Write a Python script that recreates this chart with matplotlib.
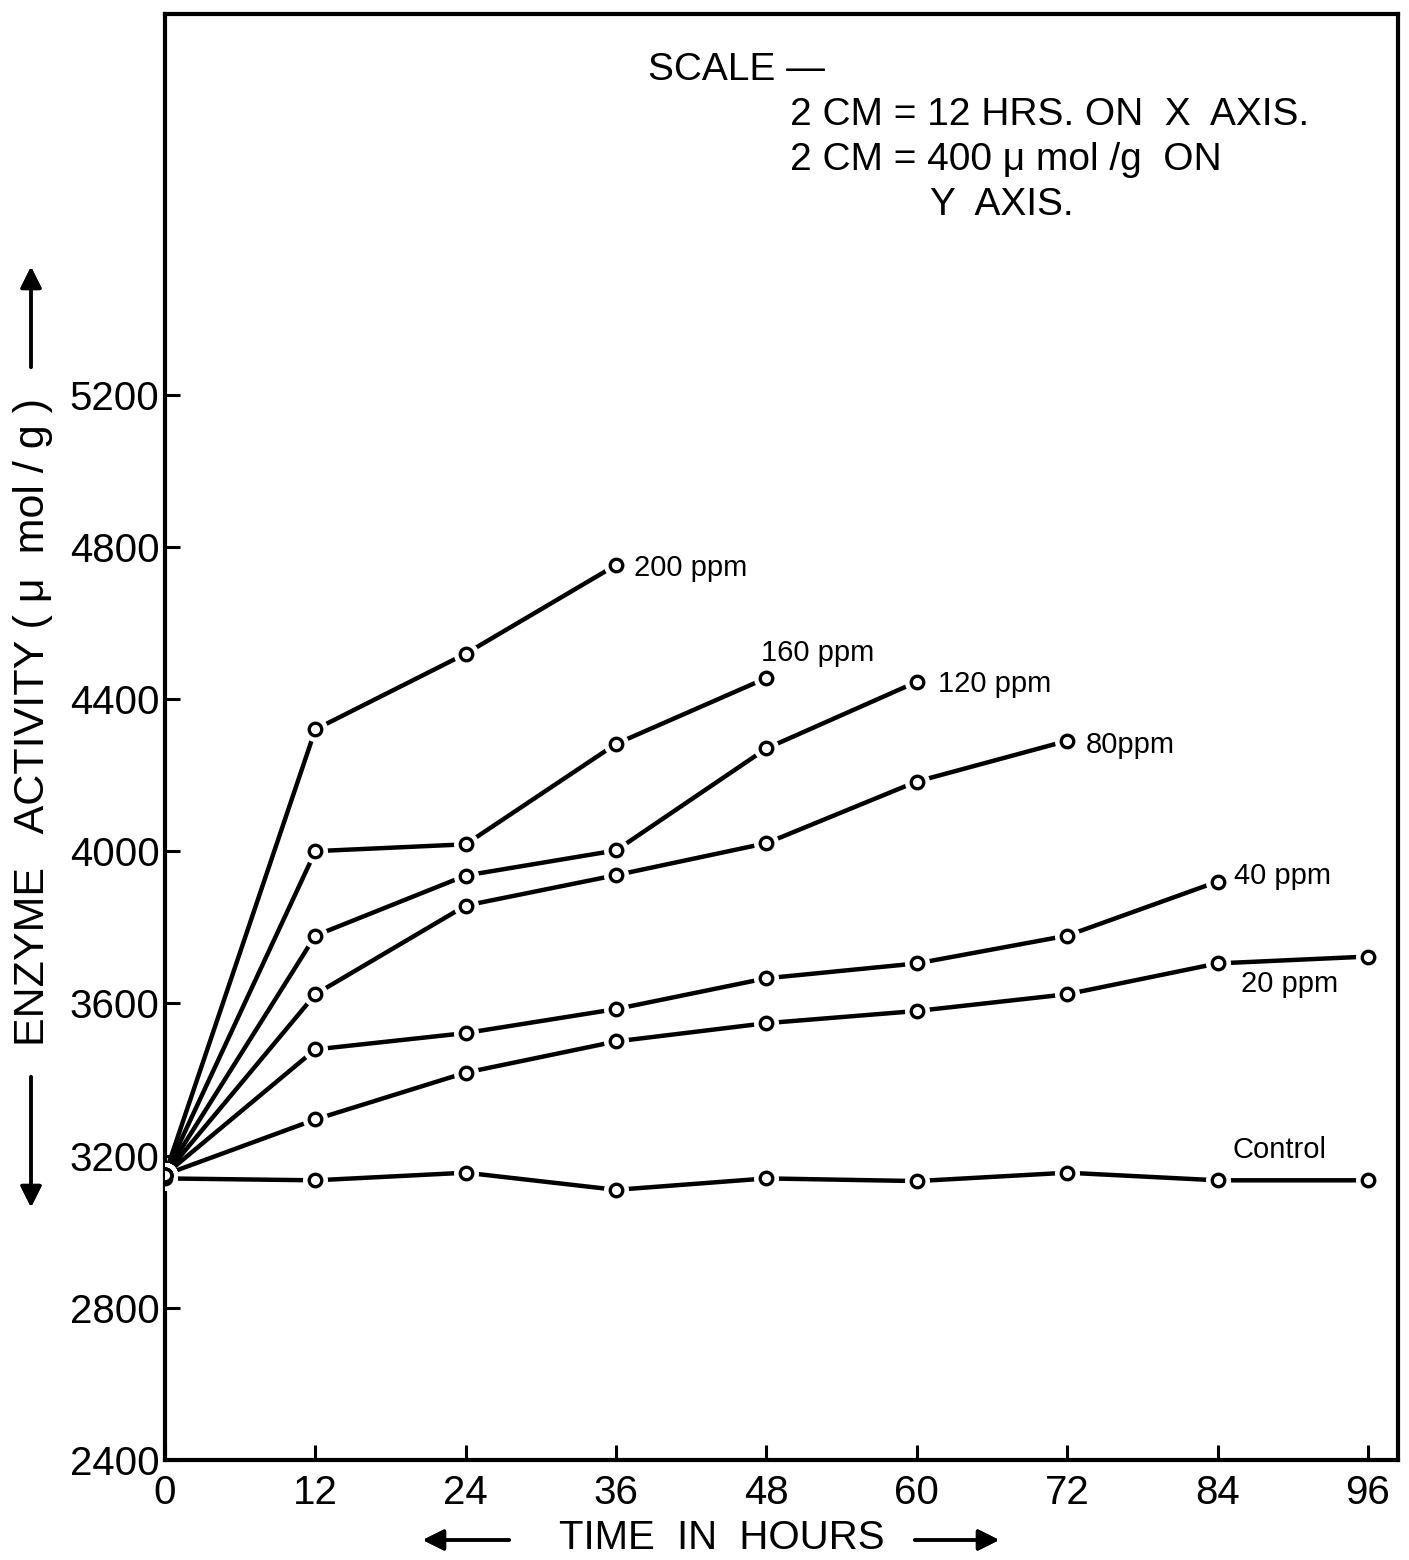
import matplotlib
matplotlib.use("Agg")
import matplotlib.pyplot as plt

plt.rcParams['font.family'] = ['Liberation Sans Narrow', 'Liberation Sans', 'DejaVu Sans']

# data (enzyme activity, umol/g)
hours = [0, 12, 24, 36, 48, 60, 72, 84, 96]
control = [3140, 3135, 3155, 3110, 3140, 3133, 3155, 3135, 3135]
ppm20 = [3150, 3295, 3418, 3500, 3548, 3580, 3624, 3705, 3723]
ppm40 = [3150, 3479, 3522, 3585, 3666, 3705, 3778, 3920]
ppm80 = [3150, 3624, 3857, 3937, 4021, 4183, 4290]
ppm120 = [3150, 3778, 3936, 4002, 4270, 4445]
ppm160 = [3150, 4000, 4018, 4282, 4455]
ppm200 = [3150, 4320, 4519, 4752]

series = [control, ppm20, ppm40, ppm80, ppm120, ppm160, ppm200]
labels = ['Control', '20 ppm', '40 ppm', '80ppm', '120 ppm', '160 ppm', '200 ppm']
# label anchor (x in hours, y in activity)
label_pos = [(85.2, 3215), (85.9, 3650), (85.3, 3935), (73.5, 4280),
             (61.7, 4440), (47.6, 4520), (37.4, 4745)]

W, H = 1409, 1560
fig = plt.figure(figsize=(W / 100, H / 100), dpi=100)
ax = fig.add_axes([165 / W, 1 - 1460 / H, (1398 - 165) / W, (1460 - 14) / H])


def px(x, y):
    return x / W, 1 - y / H


for s in series:
    xs = hours[:len(s)]
    ax.plot(xs, s, '-', color='black', lw=3.2, zorder=2, solid_capstyle='butt')
    ax.plot(xs, s, 'o', ms=17, mfc='white', mec='white', zorder=3)
    ax.plot(xs, s, 'o', ms=9, mfc='white', mec='black', mew=2.4, zorder=4)

for lab, (lx, ly) in zip(labels, label_pos):
    ax.text(lx, ly, lab, fontsize=21, ha='left', va='center')

ax.set_xlim(0, 98.4)
ax.set_ylim(2400, 6200)
ax.set_xticks(hours)
ax.set_yticks(range(2400, 5201, 400))
ax.tick_params(direction='in', length=11, width=2.2, labelsize=29)
ax.tick_params(axis='y', pad=4)
ax.tick_params(axis='x', pad=10)
for sp in ax.spines.values():
    sp.set_linewidth(3)

# scale note
fig.text(*px(648, 70), 'SCALE \u2014', fontsize=28, ha='left', va='center')
fig.text(*px(790, 115), '2 CM = 12 HRS. ON  X  AXIS.', fontsize=28, ha='left', va='center')
fig.text(*px(790, 160), '2 CM = 400 \u03bc mol /g  ON', fontsize=28, ha='left', va='center')
fig.text(*px(930, 205), 'Y  AXIS.', fontsize=28, ha='left', va='center')

# axis titles with arrows
fig.text(*px(722, 1538), 'TIME  IN  HOURS', fontsize=29, ha='center', va='center')
arr = dict(arrowstyle='-|>', lw=2.5, color='black', mutation_scale=32)
fig.add_artist(plt.annotate('', xy=px(420, 1540), xytext=px(512, 1540),
                            xycoords='figure fraction', arrowprops=arr))
fig.add_artist(plt.annotate('', xy=px(1002, 1540), xytext=px(912, 1540),
                            xycoords='figure fraction', arrowprops=arr))

fig.text(*px(33, 722), 'ENZYME   ACTIVITY ( \u03bc  mol / g )', fontsize=31,
         rotation=90, ha='center', va='center')
fig.add_artist(plt.annotate('', xy=px(31, 264), xytext=px(31, 370),
                            xycoords='figure fraction', arrowprops=arr))
fig.add_artist(plt.annotate('', xy=px(31, 1210), xytext=px(31, 1074),
                            xycoords='figure fraction', arrowprops=arr))

fig.savefig('out.png', dpi=100)
